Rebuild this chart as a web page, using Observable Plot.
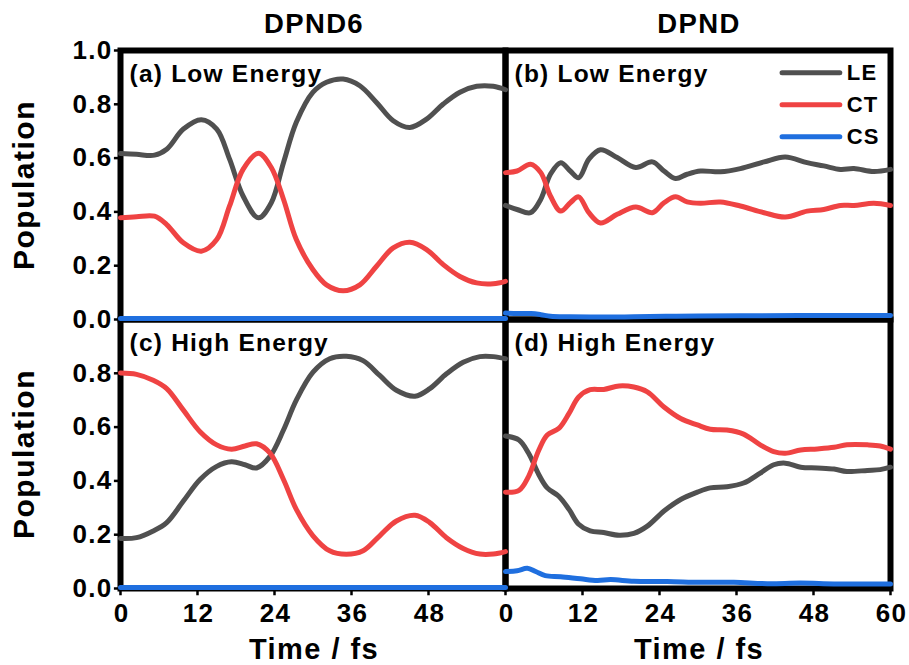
<!DOCTYPE html>
<html>
<head>
<meta charset="utf-8">
<script src="https://cdn.jsdelivr.net/npm/d3@7"></script>
<script src="https://cdn.jsdelivr.net/npm/@observablehq/plot@0.6"></script>
<style>
  html, body { margin: 0; padding: 0; background: #fff; }
  #chart svg text { letter-spacing: 0.05em; }
</style>
</head>
<body>
<div id="chart"></div>
<script>
// ---- Data ----
const molecules = ["DPND6", "DPND"];
const energies = ["Low", "High"];
const seriesNames = ["LE", "CT", "CS"];
const seriesColors = ["#505050", "#ef4343", "#1f6fdf"];
const panelLabels = ["(a) Low Energy", "(b) Low Energy", "(c) High Energy", "(d) High Energy"];

// (a) DPND6, low energy
const tA = [0, 2.5, 5.3, 7.2, 9.8, 12.6, 15, 17, 19.1, 21.5, 23.5, 25.4, 27.4, 30, 32.1, 34.7, 37.3, 39.9, 42.5, 45.1, 47.7, 50.3, 52.9, 55.5, 58.1, 60];
const leA = [0.617, 0.614, 0.611, 0.633, 0.708, 0.743, 0.708, 0.596, 0.459, 0.378, 0.434, 0.583, 0.733, 0.845, 0.882, 0.894, 0.869, 0.807, 0.739, 0.714, 0.745, 0.801, 0.845, 0.867, 0.867, 0.854];
const ctA = [0.378, 0.382, 0.384, 0.353, 0.285, 0.254, 0.297, 0.422, 0.558, 0.618, 0.565, 0.447, 0.297, 0.185, 0.129, 0.107, 0.129, 0.198, 0.266, 0.287, 0.260, 0.204, 0.160, 0.136, 0.133, 0.142];
const tCsA = [0, 12, 24, 36, 48, 60];
const csA = [0.004, 0.004, 0.004, 0.004, 0.004, 0.004];

// (b) DPND, low energy
const tB = [0, 1.8, 3.9, 5.5, 7.0, 8.6, 10.1, 11.4, 13.0, 14.8, 17.4, 20.3, 22.9, 24.7, 26.5, 28.3, 30.4, 33.5, 36.6, 40.3, 43.6, 47, 49.6, 52.2, 54.3, 57.4, 60];
const leB = [0.424, 0.409, 0.397, 0.447, 0.540, 0.583, 0.552, 0.527, 0.596, 0.631, 0.602, 0.565, 0.586, 0.552, 0.524, 0.540, 0.552, 0.549, 0.561, 0.586, 0.604, 0.583, 0.571, 0.558, 0.561, 0.550, 0.558];
const ctB = [0.546, 0.552, 0.577, 0.546, 0.459, 0.403, 0.434, 0.456, 0.397, 0.359, 0.391, 0.418, 0.397, 0.434, 0.456, 0.437, 0.432, 0.437, 0.422, 0.397, 0.381, 0.403, 0.409, 0.424, 0.424, 0.432, 0.424];
const tCsB = [0, 2, 4, 5.5, 7, 10, 15, 20, 25, 30, 40, 50, 60];
const csB = [0.024, 0.022, 0.022, 0.018, 0.012, 0.010, 0.009, 0.010, 0.012, 0.013, 0.014, 0.015, 0.015];

// (c) DPND6, high energy
const tC = [0, 2.5, 5.1, 7.2, 9.8, 12.4, 15, 17.3, 19.4, 21.2, 23.3, 25.4, 27.4, 30, 32.6, 35.2, 37.8, 40.4, 43, 45.9, 48.2, 50.8, 53.4, 56, 58.1, 60];
const leC = [0.186, 0.189, 0.214, 0.245, 0.325, 0.405, 0.454, 0.471, 0.460, 0.448, 0.491, 0.589, 0.700, 0.804, 0.854, 0.863, 0.847, 0.792, 0.737, 0.715, 0.743, 0.798, 0.841, 0.862, 0.862, 0.854];
const ctC = [0.801, 0.796, 0.774, 0.743, 0.663, 0.583, 0.534, 0.518, 0.530, 0.538, 0.503, 0.405, 0.294, 0.196, 0.140, 0.127, 0.140, 0.196, 0.251, 0.272, 0.245, 0.189, 0.149, 0.128, 0.128, 0.137];
const tCsC = [0, 12, 24, 36, 48, 60];
const csC = [0.004, 0.004, 0.004, 0.004, 0.004, 0.004];

// (d) DPND, high energy
const tD = [0, 2.1, 3.6, 5.2, 6.5, 8.3, 9.9, 11.4, 13.2, 15.3, 17.7, 20, 22.1, 24.7, 27.3, 29.9, 31.9, 34.5, 37.1, 39.7, 41.8, 43.6, 46, 48.6, 51.2, 53.2, 56.4, 58.4, 60];
const leD = [0.567, 0.552, 0.503, 0.423, 0.374, 0.343, 0.294, 0.239, 0.214, 0.208, 0.198, 0.205, 0.232, 0.288, 0.331, 0.358, 0.374, 0.378, 0.392, 0.429, 0.460, 0.466, 0.451, 0.448, 0.444, 0.435, 0.439, 0.442, 0.451];
const ctD = [0.358, 0.365, 0.417, 0.515, 0.571, 0.595, 0.651, 0.712, 0.739, 0.740, 0.753, 0.749, 0.731, 0.675, 0.632, 0.608, 0.592, 0.589, 0.574, 0.534, 0.509, 0.503, 0.515, 0.519, 0.525, 0.534, 0.534, 0.530, 0.518];
const tCsD = [0, 1.8, 3.4, 4.7, 6.2, 8.6, 11.7, 14.3, 16.4, 20, 25.2, 30.4, 35.6, 40.8, 46, 51.2, 56.4, 60];
const csD = [0.063, 0.066, 0.075, 0.063, 0.048, 0.044, 0.036, 0.030, 0.033, 0.027, 0.026, 0.023, 0.023, 0.018, 0.020, 0.017, 0.017, 0.017];

// tick labels
const yTicksLow = [0, 0.2, 0.4, 0.6, 0.8, 1.0];
const yTicksHigh = [0, 0.2, 0.4, 0.6, 0.8];
const xTicksLeft = [0, 12, 24, 36, 48];
const xTicksRight = [0, 12, 24, 36, 48, 60];

// ---- Build tables ----
const rows = [];
function addSeries(mol, en, s, ts, vs) {
  ts.forEach((t, i) => rows.push({mol, en, s, t, v: vs[i]}));
}
addSeries("DPND6", "Low", "LE", tA, leA);
addSeries("DPND6", "Low", "CT", tA, ctA);
addSeries("DPND6", "Low", "CS", tCsA, csA);
addSeries("DPND", "Low", "LE", tB, leB);
addSeries("DPND", "Low", "CT", tB, ctB);
addSeries("DPND", "Low", "CS", tCsB, csB);
addSeries("DPND6", "High", "LE", tC, leC);
addSeries("DPND6", "High", "CT", tC, ctC);
addSeries("DPND6", "High", "CS", tCsC, csC);
addSeries("DPND", "High", "LE", tD, leD);
addSeries("DPND", "High", "CT", tD, ctD);
addSeries("DPND", "High", "CS", tCsD, csD);

const yTickRows = [
  ...yTicksLow.map(v => ({en: "Low", v})),
  ...yTicksHigh.map(v => ({en: "High", v}))
];
const xTickRows = [
  ...xTicksLeft.map(t => ({mol: "DPND6", t})),
  ...xTicksRight.map(t => ({mol: "DPND", t}))
];
const labelRows = [
  {mol: "DPND6", en: "Low", label: panelLabels[0]},
  {mol: "DPND", en: "Low", label: panelLabels[1]},
  {mol: "DPND6", en: "High", label: panelLabels[2]},
  {mol: "DPND", en: "High", label: panelLabels[3]}
];
const legendRows = seriesNames.map((s, i) => ({s, i}));
const FONT = "'Liberation Sans', Arial, Helvetica, sans-serif";

const chart = Plot.plot({
  width: 909,
  height: 665,
  marginLeft: 119,
  marginRight: 19,
  marginTop: 50,
  marginBottom: 77,
  style: {background: "#fff", fontFamily: FONT, overflow: "visible"},
  fx: {domain: molecules, padding: 0, axis: null},
  fy: {domain: energies, padding: 0, axis: null},
  x: {domain: [0, 60], axis: null},
  y: {domain: [0, 1], axis: null},
  color: {domain: seriesNames, range: seriesColors},
  marks: [
    Plot.frame({stroke: "black", strokeWidth: 6}),
    // y tick marks and labels (left column only)
    Plot.ruleY(yTickRows, {fx: () => "DPND6", fy: "en", y: "v", x1: -0.95, x2: 0, stroke: "black", strokeWidth: 2.5}),
    Plot.text(yTickRows, {
      fx: () => "DPND6", fy: "en", y: "v", frameAnchor: "left", dx: -8,
      text: d => d.v.toFixed(1), textAnchor: "end", lineAnchor: "middle",
      fontSize: 26, fontWeight: "bold", fill: "black", fontFamily: FONT
    }),
    // x tick marks and labels (bottom row only)
    Plot.ruleX(xTickRows, {fx: "mol", fy: () => "High", x: "t", y1: -0.027, y2: 0, stroke: "black", strokeWidth: 2.5}),
    Plot.text(xTickRows, {
      fx: "mol", fy: () => "High", x: "t", frameAnchor: "bottom", dy: 15, dx: 1,
      text: d => String(d.t), textAnchor: "middle", lineAnchor: "top",
      fontSize: 26, fontWeight: "bold", fill: "black", fontFamily: FONT
    }),
    // data lines
    Plot.line(rows, {
      fx: "mol", fy: "en", x: "t", y: "v", z: "s", stroke: "s",
      strokeWidth: 5, curve: "catmull-rom"
    }),
    // panel labels
    Plot.text(labelRows, {
      fx: "mol", fy: "en", text: "label", frameAnchor: "top-left", dx: 9, dy: 31,
      textAnchor: "start", lineAnchor: "bottom",
      fontSize: 24.5, fontWeight: "bold", fill: "black", fontFamily: FONT
    }),
    // legend in panel (b)
    Plot.link(legendRows, {
      fx: () => "DPND", fy: () => "Low",
      x1: () => 43.1, x2: () => 52.1,
      y1: d => 0.917 - d.i * 0.119, y2: d => 0.917 - d.i * 0.119,
      stroke: "s", strokeWidth: 5, strokeLinecap: "round"
    }),
    Plot.text(legendRows, {
      fx: () => "DPND", fy: () => "Low",
      x: () => 53.2, y: d => 0.917 - d.i * 0.119, text: "s",
      textAnchor: "start", lineAnchor: "middle",
      fontSize: 22, fontWeight: "bold", fill: "black", fontFamily: FONT
    }),
    // column titles
    Plot.text(molecules, {
      fx: d => d, fy: () => "Low", text: d => d, frameAnchor: "top", dy: -18, dx: 1,
      textAnchor: "middle", lineAnchor: "bottom",
      fontSize: 27.5, fontWeight: "bold", fill: "black", fontFamily: FONT
    }),
    // x axis labels
    Plot.text(molecules, {
      fx: d => d, fy: () => "High", text: () => "Time / fs", frameAnchor: "bottom", dy: 70, dx: 1,
      textAnchor: "middle", lineAnchor: "bottom",
      fontSize: 29, fontWeight: "bold", fill: "black", fontFamily: FONT
    }),
    // y axis labels
    Plot.text(energies, {
      fx: () => "DPND6", fy: d => d, text: () => "Population", frameAnchor: "left", dx: -87,
      rotate: -90, textAnchor: "middle", lineAnchor: "bottom",
      fontSize: 30, fontWeight: "bold", fill: "black", fontFamily: FONT
    })
  ]
});
document.getElementById("chart").appendChild(chart);
</script>
</body>
</html>
